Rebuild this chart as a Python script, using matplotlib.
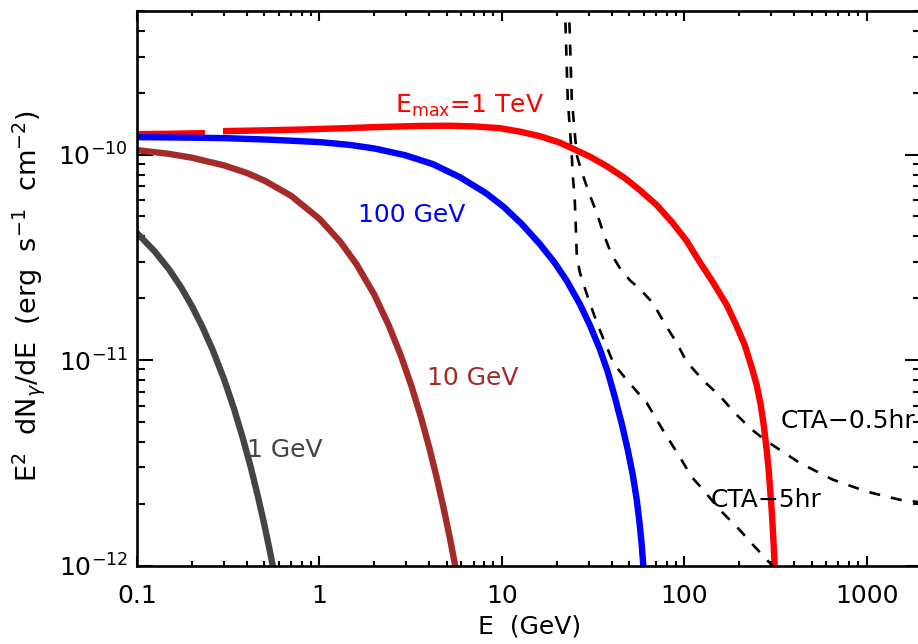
import numpy as np
import matplotlib
matplotlib.use('Agg')
from matplotlib import pyplot as plt
from matplotlib.ticker import NullFormatter

nan = np.nan

# E_max = 1 TeV (red); NaN marks the small break in the line near 0.25 GeV
red_E = [0.1, 0.1517, 0.2358, nan, 0.296, 0.472, 0.782, 1.295, 2.145, 3.553, 5.189, 7.115,
         9.751, 12.55, 16.16, 20.79, 24.49, 30.35, 37.61, 47.21, 57.05, 70.70, 86.49, 103.2,
         121.6, 143.3, 171.0, 191.5, 214.5, 231.4, 249.7, 262.6, 272.7, 283.2, 290.4, 296.0,
         301.6, 307.4, 313.3, 317.3]
red_F = [1.258e-10, 1.263e-10, 1.272e-10, nan, 1.301e-10, 1.311e-10, 1.324e-10, 1.342e-10,
         1.363e-10, 1.379e-10, 1.382e-10, 1.371e-10, 1.345e-10, 1.294e-10, 1.230e-10,
         1.144e-10, 1.070e-10, 9.78e-11, 8.79e-11, 7.69e-11, 6.72e-11, 5.68e-11, 4.65e-11,
         3.80e-11, 3.00e-11, 2.40e-11, 1.855e-11, 1.500e-11, 1.186e-11, 9.58e-12, 7.57e-12,
         6.06e-12, 4.84e-12, 3.66e-12, 2.93e-12, 2.34e-12, 1.87e-12, 1.41e-12, 1.01e-12,
         8.1e-13]

# E_max = 100 GeV (blue)
blue_E = [0.1, 0.172, 0.2997, 0.5357, 1.006, 1.469, 2.014, 2.941, 4.188, 5.886, 8.173,
          10.26, 12.87, 16.16, 19.52, 22.71, 26.76, 30.35, 34.43, 38.09, 41.62, 45.45,
          49.03, 52.22, 54.93, 57.05, 58.50, 59.62, 60.76]
blue_F = [1.216e-10, 1.211e-10, 1.203e-10, 1.182e-10, 1.150e-10, 1.115e-10, 1.070e-10,
          9.94e-11, 8.99e-11, 7.77e-11, 6.50e-11, 5.56e-11, 4.59e-11, 3.67e-11, 2.97e-11,
          2.43e-11, 1.876e-11, 1.483e-11, 1.134e-11, 8.76e-12, 6.62e-12, 4.90e-12,
          3.66e-12, 2.77e-12, 2.09e-12, 1.58e-12, 1.26e-12, 1.01e-12, 7.6e-13]

# E_max = 10 GeV (brown)
brown_E = [0.1, 0.15, 0.2, 0.3, 0.4, 0.5, 0.7, 1.0, 1.3, 1.6, 2.0, 2.4, 2.8, 3.2, 3.6,
           4.0, 4.4, 4.8, 5.2, 5.6, 6.0]
brown_F = [1.052e-10, 1.008e-10, 9.66e-11, 8.86e-11, 8.14e-11, 7.47e-11, 6.30e-11,
           4.87e-11, 3.77e-11, 2.92e-11, 2.08e-11, 1.475e-11, 1.048e-11, 7.45e-12,
           5.29e-12, 3.76e-12, 2.67e-12, 1.90e-12, 1.35e-12, 9.6e-13, 6.8e-13]

# E_max = 1 GeV (grey)
grey_E = [0.1, 0.125, 0.15, 0.175, 0.2, 0.23, 0.26, 0.3, 0.34, 0.38, 0.42, 0.46, 0.5,
          0.54, 0.58]
grey_F = [4.15e-11, 3.38e-11, 2.76e-11, 2.25e-11, 1.83e-11, 1.43e-11, 1.12e-11,
          8.07e-12, 5.81e-12, 4.18e-12, 3.02e-12, 2.17e-12, 1.57e-12, 1.13e-12, 8.1e-13]

# CTA sensitivity, 0.5 hr
cta05_E = [23.28, 24.19, 25.76, 27.44, 30.35, 33.16, 36.68, 40.07, 44.33, 50.28, 57.04,
           67.2, 80.2, 90.98, 103.2, 129.5, 156.5, 189.1, 228.6, 276.1, 346.5, 429.6,
           651.3, 1000.0, 1516.0, 2079.0]
cta05_F = [5.64e-10, 1.861e-10, 0.994e-10, 8.22e-11, 6.36e-11, 5.20e-11, 3.97e-11,
           3.25e-11, 2.81e-11, 2.45e-11, 2.22e-11, 1.90e-11, 1.45e-11, 1.213e-11,
           9.80e-12, 7.83e-12, 6.70e-12, 5.54e-12, 4.68e-12, 4.09e-12, 3.58e-12,
           3.16e-12, 2.62e-12, 2.29e-12, 2.09e-12, 2.02e-12]

# CTA sensitivity, 5 hr
cta5_E = [22.14, 22.99, 24.19, 24.49, 25.12, 25.44, 25.76, 26.76, 28.14, 30.35, 33.57,
          37.61, 41.09, 48.4, 62.3, 76.2, 94.5, 109.9, 129.5, 156.5, 201.4, 243.4, 294.2,
          325.3]
cta5_F = [5.64e-10, 1.861e-10, 0.994e-10, 7.95e-11, 6.01e-11, 4.54e-11, 3.25e-11,
          2.68e-11, 2.32e-11, 1.90e-11, 1.48e-11, 1.16e-11, 9.58e-12, 8.01e-12, 6.19e-12,
          4.58e-12, 3.38e-12, 2.70e-12, 2.29e-12, 1.87e-12, 1.49e-12, 1.235e-12,
          1.03e-12, 0.93e-12]

xtick_vals = [0.1, 1, 10, 100, 1000]
xtick_labels = ['0.1', '1', '10', '100', '1000']
ytick_vals = [1e-12, 1e-11, 1e-10]

plt.rcParams['font.family'] = ['DejaVu Sans']
plt.rcParams['font.size'] = 18

fig = plt.figure(figsize=(9.18, 6.44), dpi=100)
ax = fig.add_axes([137 / 918, 78.5 / 644, 784.5 / 918, 554.5 / 644])

lw = 4.6
ax.plot(red_E, red_F, color='#ff0000', lw=lw, solid_capstyle='butt')
ax.plot(blue_E, blue_F, color='#0000ff', lw=lw)
ax.plot(brown_E, brown_F, color='#a52a2a', lw=lw)
ax.plot(grey_E, grey_F, color='#444444', lw=lw)
ax.plot(cta05_E, cta05_F, color='black', lw=1.9, ls=(0, (4.2, 4.2)))
ax.plot(cta5_E, cta5_F, color='black', lw=1.9, ls=(0, (4.2, 4.2)))

ax.set_xscale('log')
ax.set_yscale('log')
ax.set_xlim(0.1, 2000)
ax.set_ylim(1e-12, 5e-10)
ax.set_xticks(xtick_vals)
ax.set_xticklabels(xtick_labels)
ax.set_yticks(ytick_vals)
ax.xaxis.set_minor_formatter(NullFormatter())
ax.yaxis.set_minor_formatter(NullFormatter())

for s in ax.spines.values():
    s.set_linewidth(1.9)
ax.tick_params(which='both', direction='in', top=True, right=True, width=1.5)
ax.tick_params(axis='x', which='major', length=7.5, pad=13)
ax.tick_params(axis='x', which='minor', length=3.8)
ax.tick_params(axis='y', which='major', length=11.5, pad=6.5)
ax.tick_params(axis='y', which='minor', length=5.5)

ax.text(2.59, 1.591e-10, r'E$_{\mathrm{max}}$=1 TeV', color='#ff0000')
ax.text(1.626, 4.70e-11, '100 GeV', color='#0000ff')
ax.text(3.88, 7.57e-12, '10 GeV', color='#a52a2a')
ax.text(0.40, 3.38e-12, '1 GeV', color='#444444')
ax.text(338, 4.68e-12, 'CTA\u22120.5hr', color='black')
ax.text(139.6, 1.93e-12, 'CTA\u22125hr', color='black')

ax.set_xlabel('E  (GeV)')
ax.xaxis.set_label_coords(0.5, -0.088)
ax.set_ylabel(r'E$^2$  dN$_\gamma$/dE  (erg  s$^{-1}$  cm$^{-2}$)', fontsize=19.5)
ax.yaxis.set_label_coords(-0.115, 0.485)

fig.savefig('out.png', dpi=100)
